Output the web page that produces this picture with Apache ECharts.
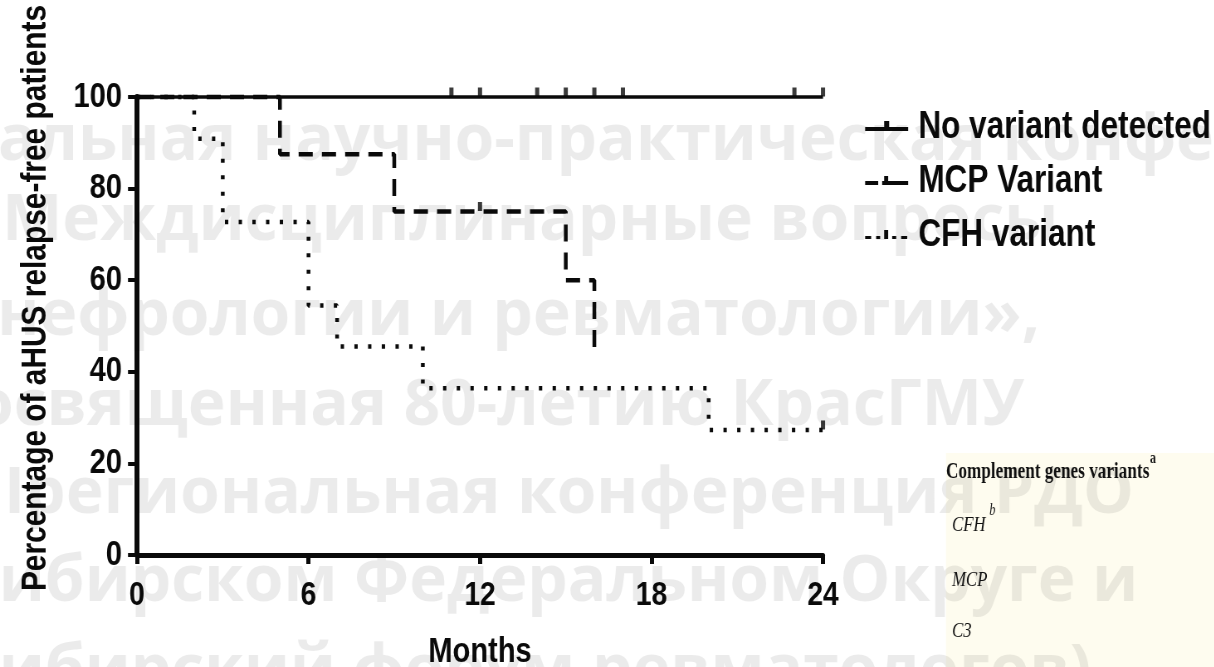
<!DOCTYPE html>
<html>
<head>
<meta charset="utf-8">
<script src="https://cdn.jsdelivr.net/npm/echarts@6/dist/echarts.min.js"></script>
<style>
html,body{margin:0;padding:0;background:#fff;overflow:hidden;}
#wrap{width:1214px;height:667px;overflow:hidden;position:relative;}
#chart{height:667px;transform-origin:0 0;position:absolute;left:0;top:0;}
</style>
</head>
<body>
<div id="wrap"><div id="chart"></div></div>
<script>
// ---- data ----
const xTicks = [0, 6, 12, 18, 24];
const yTicks = [0, 20, 40, 60, 80, 100];
const seriesNames = ['No variant detected', 'MCP Variant', 'CFH variant'];
const xAxisTitle = 'Months';
const yAxisTitle = 'Percentage of aHUS relapse-free patients';

const noVariantTimes = [0, 24];
const noVariantValues = [100, 100];
const noVariantCensorTimes = [11, 12, 14, 15, 16, 17, 23, 24];
const noVariantCensorValues = [100, 100, 100, 100, 100, 100, 100, 100];

const mcpTimes = [0, 5, 9, 15, 16];
const mcpValues = [100, 87.5, 75, 60, 45];
const mcpCensorTimes = [12];
const mcpCensorValues = [75];

const cfhTimes = [0, 2, 3, 6, 7, 10, 20, 24];
const cfhValues = [100, 90.9, 72.7, 54.5, 45.5, 36.4, 27.3, 27.3];
const cfhCensorTimes = [24];
const cfhCensorValues = [27.3];

const watermarkLines = [
  'альная научно-практическая конференция',
  'Междисциплинарные вопросы',
  'нефрологии и ревматологии»,',
  'освященная 80-летию КрасГМУ',
  'Iрегиональная конференция РДО',
  'Сибирском Федеральном Округе и',
  'Сибирский форум ревматологов)'
];

const tableTitle = 'Complement genes variants';
const tableRows = ['CFH', 'MCP', 'C3'];

// ---- layout (screen px) ----
const S = 0.83;                       // horizontal squeeze of the original figure
const W = Math.round(1214 / S);
const sx = v => v / S;                // screen x -> chart x
const wmX = [-2, 2, -3, -26, 4, -42, -42];
const wmY = [142, 222, 317, 407, 495, 583, 672];

const chartEl = document.getElementById('chart');
chartEl.style.width = W + 'px';
chartEl.style.transform = 'scaleX(' + S + ')';

const zip = (a, b) => a.map((v, i) => [v, b[i]]);
const SANS = "'Liberation Sans', Arial, sans-serif";
const SERIF = "'Liberation Serif', 'Times New Roman', serif";
const BLACK = '#0a0a0a';

const chart = echarts.init(chartEl, null, {renderer: 'canvas', width: W, height: 667});

const censorStyle = {
  type: 'scatter', symbol: 'rect', symbolSize: [5, 9], symbolOffset: [0, -5],
  itemStyle: {color: BLACK}, silent: true, clip: false, z: 5
};

const graphics = [
  // y axis title: narrow glyphs along its length, full glyph height
  {type: 'text', x: sx(36), y: 298, rotation: Math.PI / 2, scaleX: S, scaleY: 1 / S, z: 2,
    style: {text: yAxisTitle, fontFamily: SANS, fontWeight: 'bold', fontSize: 36, fill: BLACK, align: 'center', verticalAlign: 'middle'}},
  {type: 'rect', shape: {x: sx(946), y: 453, width: sx(268) + 2, height: 214}, style: {fill: '#fefcef'}, z: 1, silent: true},
  {type: 'text', x: sx(946), y: 458, scaleX: 0.9, z: 2, style: {
    text: '{t|' + tableTitle + '}{s|a}', align: 'left', verticalAlign: 'top',
    rich: {
      t: {fontFamily: SERIF, fontWeight: 'bold', fontSize: 23, lineHeight: 26, fill: '#111', verticalAlign: 'bottom'},
      s: {fontFamily: SERIF, fontWeight: 'bold', fontSize: 16, lineHeight: 26, fill: '#111', verticalAlign: 'top', padding: [-7, 0, 0, 1]}
    }}},
  {type: 'text', x: sx(952), y: 511, scaleX: 0.92, z: 2, style: {
    text: '{t|' + tableRows[0] + '}{s|b}', align: 'left', verticalAlign: 'top',
    rich: {
      t: {fontFamily: SERIF, fontStyle: 'italic', fontSize: 22, lineHeight: 25, fill: '#111', verticalAlign: 'bottom'},
      s: {fontFamily: SERIF, fontStyle: 'italic', fontSize: 16, lineHeight: 25, fill: '#111', verticalAlign: 'top', padding: [-8, 0, 0, 5]}
    }}},
  {type: 'text', x: sx(952), y: 591, scaleX: 0.92, z: 2, style: {text: tableRows[1], fontFamily: SERIF, fontStyle: 'italic', fontSize: 22, fill: '#111', align: 'left', verticalAlign: 'bottom'}},
  {type: 'text', x: sx(952), y: 642, scaleX: 0.92, z: 2, style: {text: tableRows[2], fontFamily: SERIF, fontStyle: 'italic', fontSize: 22, fill: '#111', align: 'left', verticalAlign: 'bottom'}}
];
watermarkLines.forEach((t, i) => {
  graphics.push({
    type: 'text', x: sx(wmX[i]), y: wmY[i], scaleX: 1 / S, silent: true, z: 100,
    style: {text: t, fontFamily: "'Open Sans', sans-serif", fontWeight: 'bold', fontSize: 64,
      fill: 'rgba(0,0,0,0.08)', align: 'left', verticalAlign: 'middle'}
  });
});

const option = {
  backgroundColor: '#ffffff',
  animation: false,
  grid: {left: sx(137), top: 97, right: W - sx(823), bottom: 112, containLabel: false, outerBoundsMode: 'none'},
  legend: {
    orient: 'vertical', left: sx(861), top: 104, itemWidth: sx(43), itemHeight: 14, itemGap: 16,
    symbolKeepAspect: false, selectedMode: false,
    textStyle: {fontFamily: SANS, fontWeight: 'bold', fontSize: 38, lineHeight: 38, color: BLACK, padding: [0, 0, 0, sx(6)]},
    data: [
      {name: seriesNames[0], icon: 'path://M0,0M43,14M0,6H43V10H0Z M19,0H24V6H19Z'},
      {name: seriesNames[1], icon: 'path://M0,0M43,14M0,6H13V10H0Z M17,6H43V10H17Z M19,1H23V6H19Z'},
      {name: seriesNames[2], icon: 'path://M0,0M43,14M0,7H6V10H0Z M11,7H15V10H11Z M19,1H23V10H19Z M27,7H31V10H27Z M36,7H42V10H36Z'}
    ]
  },
  xAxis: {
    type: 'value', min: xTicks[0], max: xTicks[xTicks.length - 1], interval: 6,
    name: xAxisTitle, nameLocation: 'middle', nameGap: 80,
    nameTextStyle: {fontFamily: SANS, fontWeight: 'bold', fontSize: 35, color: BLACK},
    axisLine: {show: true, lineStyle: {color: BLACK, width: 5}},
    axisTick: {show: true, length: 9, lineStyle: {color: BLACK, width: 5}},
    axisLabel: {fontFamily: SANS, fontWeight: 'bold', fontSize: 34, color: BLACK, margin: 24},
    splitLine: {show: false}
  },
  yAxis: {
    type: 'value', min: yTicks[0], max: yTicks[yTicks.length - 1], interval: 20,
    axisLine: {show: true, lineStyle: {color: BLACK, width: 6}},
    axisTick: {show: true, length: sx(9), lineStyle: {color: BLACK, width: 4}},
    axisLabel: {fontFamily: SANS, fontWeight: 'bold', fontSize: 35, color: BLACK, margin: sx(15)},
    splitLine: {show: false}
  },
  series: [
    {name: seriesNames[2], type: 'line', step: 'end', symbol: 'none', clip: false, z: 3,
      data: zip(cfhTimes, cfhValues), color: BLACK,
      lineStyle: {color: BLACK, width: 4.5, type: [4, 12.5], cap: 'butt'}},
    {name: seriesNames[1], type: 'line', step: 'end', symbol: 'none', clip: false, z: 3,
      data: zip(mcpTimes, mcpValues), color: BLACK,
      lineStyle: {color: BLACK, width: 4.5, type: [17, 11], cap: 'butt'}},
    {name: seriesNames[0], type: 'line', step: 'end', symbol: 'none', clip: false, z: 4,
      data: zip(noVariantTimes, noVariantValues), color: BLACK,
      lineStyle: {color: BLACK, width: 3.5, type: 'solid'}},
    Object.assign({name: 'nv-censor', data: zip(noVariantCensorTimes, noVariantCensorValues)}, censorStyle),
    Object.assign({name: 'mcp-censor', data: zip(mcpCensorTimes, mcpCensorValues)}, censorStyle),
    Object.assign({name: 'cfh-censor', data: zip(cfhCensorTimes, cfhCensorValues)}, censorStyle)
  ],
  graphic: graphics
};
chart.setOption(option);
</script>
</body>
</html>
